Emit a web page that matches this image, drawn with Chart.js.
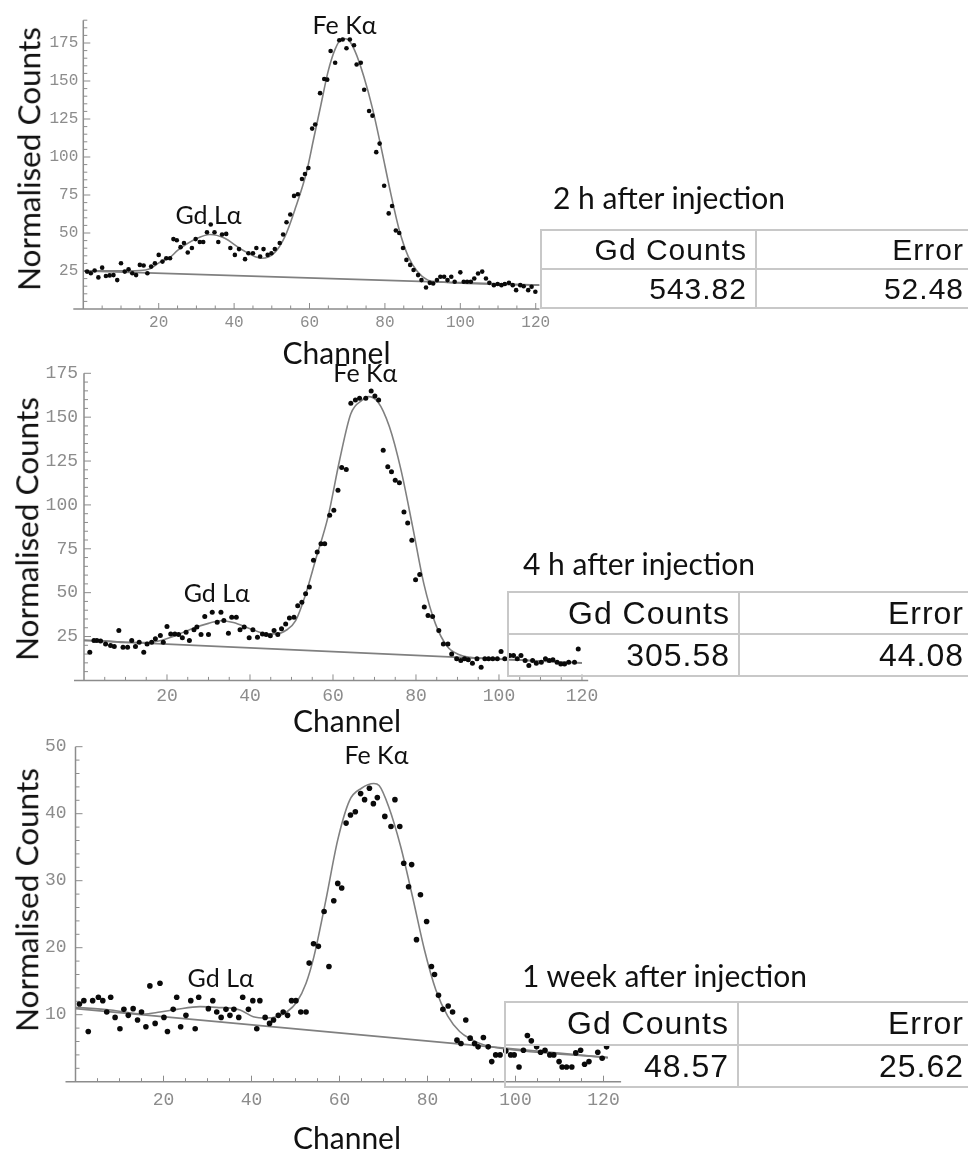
<!DOCTYPE html>
<html>
<head>
<meta charset="utf-8">
<title>Gd / Fe XRF spectra</title>
<script src="https://cdn.jsdelivr.net/npm/chart.js@4.4.1/dist/chart.umd.min.js"></script>
<style>
  html, body { margin: 0; padding: 0; background: #fff; }
  #page { position: relative; width: 968px; height: 1152px; overflow: hidden; background: #fff; }
  #page canvas { position: absolute; left: 0; }
  .ytitle, .xtitle, .caption { position: absolute; font-family: Lato, "Open Sans", sans-serif; color: #111; white-space: pre; line-height: 1; }
  .ytitle { font-size: 31.5px; transform: translate(-50%, -50%) rotate(-90deg); }
  .xtitle { font-size: 30px; transform: translate(-50%, -50%); }
  .caption { font-size: 30px; transform: translateY(-50%); }
  table.res { position: absolute; border-collapse: collapse; table-layout: fixed; font-family: "Liberation Sans", Arial, sans-serif; color: #111; letter-spacing: 1px; }
  table.res td { border: 2px solid #c8c8c8; text-align: right; white-space: nowrap; overflow: hidden; line-height: 1; vertical-align: middle; padding: 0 8px 0 0; }
  table.res td + td { padding-right: 10px; }
</style>
</head>
<body>
<div id="page"></div>
<script>
// ---- 2 h after injection ----
const p1Channel = [1,2,3,4,5,6,7,8,9,10,11,12,13,14,15,16,17,18,19,20,21,22,23,
  23.9,24.8,25.8,26.7,27.7,28.8,29.8,30.9,31.8,32.8,33.8,34.8,35.8,36.8,37.9,39.0,40.2,41.3,42.9,43.8,
  45.0,45.9,46.9,47.8,48.9,49.9,50.8,52.1,53.0,53.9,54.9,55.9,56.9,58.0,58.8,59.7,60.7,61.5,62.8,63.9,
  64.7,65.6,66.8,67.9,68.8,69.8,70.7,71.8,72.5,73.6,74.5,75.8,76.7,77.7,78.6,79.8,81.0,81.9,82.9,83.8,
  84.8,85.7,86.7,87.6,88.8,89.7,90.9,91.9,92.8,93.8,94.7,95.7,96.6,97.6,98.5,100.0,100.9,101.8,102.8,103.7,
  104.7,105.8,106.8,107.7,108.9,109.9,110.9,111.8,112.9,113.9,114.8,115.9,116.8,118.0,118.9,119.9];
const p1Counts = [24.6,23.5,25.3,20.8,27.2,21.7,22.1,22.3,19.0,30.1,24.6,26.1,23.5,22.3,29.0,28.6,23.5,27.9,30.1,35.6,31.2,33.4,33.4,
  46.0,45.2,40.7,43.4,37.2,40.1,46.0,44.1,44.1,50.5,55.6,50.5,44.1,49.0,49.4,40.1,35.6,39.4,32.8,36.7,
  36.7,40.1,34.5,39.4,35.6,36.7,39.4,43.4,49.0,57.1,62.2,74.4,75.5,85.5,88.8,92.8,118.7,121.4,142.0,151.3,
  150.9,169.7,162.0,176.8,177.3,171.5,177.3,173.5,160.9,162.0,144.2,130.3,127.2,103.2,108.8,81.1,62.9,67.8,51.6,50.0,
  40.1,32.3,29.0,25.7,22.3,19.0,14.1,17.2,16.8,19.0,21.2,21.2,19.0,21.2,17.9,24.1,17.9,17.9,17.9,20.1,
  23.4,24.6,20.1,17.2,15.7,16.4,15.7,16.4,17.2,15.7,12.4,15.7,15.0,12.4,14.6,11.3];
const p1FitChannel = [0,8,15,17.7,20.3,23,25,29.8,33.6,37.4,42.1,47.3,50.6,53.5,56.3,59.2,61.1,63,64.9,66.8,68.7,70.1,72,74.4,76.7,79.1,81.5,83.8,86.2,88.6,91.4,94.3,121];
const p1FitCounts = [25.2,25.1,25.3,26.5,30.8,34,38.5,46,49,46.7,39,33.4,36.7,47.8,66.7,90,112,134,156,171,178,177.5,170,153,132,105,76.6,52,34.5,24.6,19,17.9,15.7];
const p1BaseChannel = [0, 121];
const p1BaseCounts = [25.1, 15.7];

// ---- 4 h after injection ----
const p2Channel = [1.4,2.4,3.1,4.0,5.2,6.4,7.3,8.4,9.4,10.5,11.5,12.4,13.3,14.4,15.2,16.3,17.2,18.4,19.1,20.0,
  20.9,21.9,22.8,23.7,24.6,25.4,26.5,27.2,28.2,29.1,30.0,30.9,32.1,33.0,33.7,34.8,35.6,36.7,37.6,38.6,
  39.8,40.7,41.8,43.0,43.9,44.9,45.8,46.7,47.6,48.6,49.5,50.6,51.5,52.5,53.4,54.3,55.3,56.2,57.1,58.0,
  59.2,60.2,61.2,62.1,63.2,64.3,65.4,66.4,67.9,69.2,70.1,71.0,72.1,73.2,74.1,75.0,76.0,77.1,78.0,79.0,
  79.9,80.9,82.0,82.9,84.0,85.5,86.6,87.7,88.6,89.8,90.8,91.7,92.6,93.6,94.7,95.7,96.6,97.5,98.5,99.6,
  100.5,101.4,102.6,103.5,104.4,105.3,106.3,107.2,108.1,109.0,110.2,111.2,112.1,113.0,114.0,114.9,115.8,116.8,118.2,119.1];
const p2Counts = [16.1,22.7,22.7,22.4,20.8,19.9,19.3,28.4,18.9,18.9,22.7,19.3,21.8,16.1,20.8,21.8,23.7,25.6,21.8,30.7,
  26.5,26.5,26.2,24.3,27.5,22.7,28.8,30.4,26.2,36.4,26.2,38.9,33.2,38.9,34.1,26.9,36.0,36.0,28.8,30.4,
  24.3,28.8,24.6,26.5,26.2,25.4,28.4,26.2,29.4,32.2,35.6,36.0,42.5,44.6,49.4,53.2,68.4,73.2,77.9,77.9,
  94.1,97.0,108.4,121.3,120.2,157.9,159.8,160.8,160.8,164.9,162.1,159.8,131.2,121.7,118.9,114.1,112.6,96.0,89.7,79.8,
  57.4,60.4,41.8,37.0,36.4,28.4,20.8,20.8,15.1,12.3,11.3,12.3,11.7,9.8,12.3,7.5,12.3,12.3,12.3,12.3,
  16.4,12.3,14.2,14.2,12.3,14.2,11.3,8.5,11.3,9.8,10.4,12.3,11.3,11.7,10.4,9.4,9.4,10.4,10.4,17.9];
const p2FitChannel = [0,5,10,15,18,22,26,30,33,36,40,43,46,49,51,53.2,56,58.8,61.6,64.3,67.1,68.5,70.8,73.6,76.4,79.2,81.9,84.7,87.5,90.3,93.1,96,120];
const p2FitCounts = [22.8,22.5,21.6,21.6,22.5,25.5,29.5,32.5,34,33,29.5,27,26.5,29,34,47.5,70.3,93.2,125.6,152,159.8,161.7,158.8,144.5,119.8,87.5,55,32.2,19.5,14.8,13.1,12.6,10.0];
const p2BaseChannel = [0, 120];
const p2BaseCounts = [22.8, 10.0];

// ---- 1 week after injection ----
const p3Channel = [0.9,1.9,2.9,3.9,5.2,6.2,7.1,8.0,9.0,10.1,11.0,12.0,13.1,14.1,15.0,16.0,16.9,18.1,19.2,20.1,
  20.9,22.2,23.0,23.9,25.1,26.2,27.2,28.0,30.2,31.2,32.1,33.1,34.2,35.1,36.0,37.1,38.0,39.3,40.3,41.2,
  41.9,43.1,44.1,45.0,46.1,47.2,48.2,49.1,50.1,51.2,52.4,53.1,54.1,55.2,56.5,57.6,58.7,59.6,60.5,61.5,
  62.5,63.6,64.8,65.7,66.8,67.7,68.6,70.3,71.7,72.6,73.7,74.6,75.7,76.4,77.5,78.4,79.8,
  80.9,81.6,82.5,83.5,84.7,85.7,86.7,87.6,88.7,89.7,90.7,91.5,92.7,93.8,94.6,95.5,96.5,97.8,98.9,99.7,
  100.8,101.8,102.7,103.6,104.8,105.7,106.7,107.8,108.7,109.9,110.6,111.6,112.8,113.7,114.8,115.7,116.7,118.7,119.7,120.7];
const p3Counts = [11.6,12.1,7.5,12.1,12.6,12.1,10.4,12.6,9.6,7.9,10.8,9.9,10.9,9.2,10.4,8.2,14.3,8.7,14.7,9.6,
  7.5,10.8,12.6,8.2,9.9,12.1,7.9,12.6,10.9,12.1,10.4,9.6,10.8,9.9,10.8,9.6,12.6,10.8,12.1,7.9,
  12.1,9.6,8.7,9.2,9.9,10.4,9.9,12.1,12.1,10.4,10.4,17.7,20.6,20.2,25.4,17.2,27.0,29.6,28.9,38.6,
  39.8,40.3,43.0,42.1,43.8,41.5,42.4,39.6,38.1,42.1,38.1,32.6,29.1,32.4,21.2,27.9,23.9,
  17.2,16.0,12.9,10.8,11.3,10.4,6.2,5.7,9.2,6.5,5.7,5.2,6.6,5.2,3.0,4.0,4.0,4.6,4.0,4.0,
  2.2,4.7,6.9,6.1,5.2,4.4,4.7,4.0,4.0,3.0,2.2,2.2,2.2,4.3,4.7,2.6,3.0,4.4,3.5,5.2];
const p3FitChannel = [0,8,15.4,19.2,23,28.3,32,37.4,40.4,43.4,45.7,48,50.3,52.4,54.2,56.9,59.6,62.3,65,67.8,69,71.2,73.9,76.6,79.3,81.9,84.6,87.3,90,92.7,96.5,121];
const p3FitCounts = [11.1,10.7,10.1,10.4,10.8,11.2,11.1,10.7,9.7,9.5,9.7,10.4,11.9,14.7,18.7,27.1,36.1,42.0,43.8,44.5,44.2,41.0,35.1,27.6,19.7,13.7,9.8,7.5,6.3,5.5,5.0,3.6];
const p3BaseChannel = [0, 121];
const p3BaseCounts = [10.9, 3.6];

// ---- texts ----
const captions = ['2 h after injection', '4 h after injection', '1 week after injection'];
const tableHeader = ['Gd Counts', 'Error'];
const gdCounts = ['543.82', '305.58', '48.57'];
const gdErrors = ['52.48', '44.08', '25.62'];
const peakNames = ['Gd L\u03b1', 'Fe K\u03b1'];
const yTitle = 'Normalised Counts';
const xTitle = 'Channel';

const panels = [
  { ch: p1Channel, counts: p1Counts, fitCh: p1FitChannel, fit: p1FitCounts, baseCh: p1BaseChannel, base: p1BaseCounts,
    top: 0, height: 345, area: { left: 83.3, right: 539.5, top: 20.2, bottom: 309 },
    xMax: 121, yMax: 190, yStep: 25, yMinor: 5, tickFont: 16, yPad: 5, xPad: 4.4, dot: 2.3,
    peaks: [[33.2, 61.2], [69.3, 185.9]],
    yTitleAt: [28.5, 158.5], xTitleAt: [336.5, 352], captionAt: [553, 197],
    table: { left: 540, top: 229, col: 215, row: 39, font: 30 } },
  { ch: p2Channel, counts: p2Counts, fitCh: p2FitChannel, fit: p2FitCounts, baseCh: p2BaseChannel, base: p2BaseCounts,
    top: 345, height: 375, area: { left: 84, right: 588.2, top: 28.3, bottom: 335.4 },
    xMax: 121.5, yMax: 175, yStep: 25, yMinor: 5, tickFont: 18, yPad: 6, xPad: 5.3, dot: 2.5,
    peaks: [[32.0, 49.2], [67.8, 174.6]],
    yTitleAt: [26.5, 528.5], xTitleAt: [347, 720], captionAt: [523, 563],
    table: { left: 507, top: 591, col: 231, row: 42, font: 32 } },
  { ch: p3Channel, counts: p3Counts, fitCh: p3FitChannel, fit: p3FitCounts, baseCh: p3BaseChannel, base: p3BaseCounts,
    top: 725, height: 427, area: { left: 75.5, right: 621.1, top: 21.7, bottom: 356.7 },
    xMax: 124, yMax: 50, yStep: 10, yMinor: 2, tickFont: 18, yPad: 9, xPad: 7.5, dot: 2.8,
    peaks: [[33.0, 15.4], [68.4, 48.6]],
    yTitleAt: [27, 900], xTitleAt: [347, 1136.5], captionAt: [522, 975],
    table: { left: 504, top: 1001, col: 233, row: 42.5, font: 32 } }
];

// Mathematica-like axes: lines through the origin, inward ticks, peak names
const mmaAxes = {
  id: 'mmaAxes',
  beforeDatasetsDraw(chart, args, o) {
    const { ctx, scales: { x, y } } = chart;
    const ox = x.getPixelForValue(0);
    const oy = y.getPixelForValue(0);
    ctx.save();
    ctx.strokeStyle = '#8c8c8c';
    ctx.lineWidth = 1.5;
    ctx.beginPath();
    ctx.moveTo(ox - 10, oy); ctx.lineTo(x.right, oy);
    ctx.moveTo(ox, y.top); ctx.lineTo(ox, oy);
    ctx.stroke();
    ctx.lineWidth = 1;
    ctx.beginPath();
    for (let v = o.xMinor; v <= x.max; v += o.xMinor) {
      const px = x.getPixelForValue(v);
      ctx.moveTo(px, oy); ctx.lineTo(px, oy - (v % o.xMajor === 0 ? 6 : 3.5));
    }
    for (let v = o.yMinor; v <= y.max; v += o.yMinor) {
      const py = y.getPixelForValue(v);
      ctx.moveTo(ox, py); ctx.lineTo(ox + (v % o.yMajor === 0 ? 7 : 4), py);
    }
    ctx.stroke();
    ctx.restore();
  },
  afterDraw(chart, args, o) {
    const { ctx, scales: { x, y } } = chart;
    ctx.save();
    ctx.font = '25px Lato, "Open Sans", sans-serif';
    ctx.fillStyle = '#111';
    ctx.textAlign = 'center';
    ctx.textBaseline = 'middle';
    o.spots.forEach((s, i) => ctx.fillText(peakNames[i], x.getPixelForValue(s[0]), y.getPixelForValue(s[1])));
    ctx.restore();
  }
};

const page = document.getElementById('page');

function pairs(xs, ys) {
  return xs.map((v, i) => ({ x: v, y: ys[i] }));
}

function addText(cls, text, at) {
  const d = document.createElement('div');
  d.className = cls;
  d.textContent = text;
  d.style.left = at[0] + 'px';
  d.style.top = at[1] + 'px';
  page.appendChild(d);
}

function addTable(i, t) {
  const tb = document.createElement('table');
  tb.className = 'res';
  tb.style.left = t.left + 'px';
  tb.style.top = t.top + 'px';
  tb.style.width = (976 - t.left) + 'px';
  tb.style.fontSize = t.font + 'px';
  tb.innerHTML = '<colgroup><col style="width:' + t.col + 'px"><col></colgroup>' +
    '<tr><td>' + tableHeader[0] + '</td><td>' + tableHeader[1] + '</td></tr>' +
    '<tr><td>' + gdCounts[i] + '</td><td>' + gdErrors[i] + '</td></tr>';
  tb.querySelectorAll('td').forEach(td => { td.style.height = (t.row - 2) + 'px'; });
  page.appendChild(tb);
}

panels.forEach((p, i) => {
  const canvas = document.createElement('canvas');
  canvas.width = 968;
  canvas.height = p.height;
  canvas.style.top = p.top + 'px';
  page.appendChild(canvas);

  const tickFont = { family: '"Liberation Mono", "Courier New", monospace', size: p.tickFont };
  const a = p.area;

  new Chart(canvas, {
    type: 'scatter',
    data: {
      datasets: [
        { data: pairs(p.ch, p.counts), pointRadius: p.dot, pointBackgroundColor: '#0a0a0a', pointBorderWidth: 0, showLine: false },
        { data: pairs(p.fitCh, p.fit), showLine: true, borderColor: '#808080', borderWidth: 1.6, pointRadius: 0, cubicInterpolationMode: 'monotone' },
        { data: pairs(p.baseCh, p.base), showLine: true, borderColor: '#808080', borderWidth: 1.6, pointRadius: 0 }
      ]
    },
    options: {
      responsive: false,
      animation: false,
      events: [],
      layout: { padding: { left: 0, right: 968 - a.right, top: a.top, bottom: 0 } },
      plugins: {
        legend: { display: false },
        tooltip: { enabled: false },
        mmaAxes: { xMinor: 5, xMajor: 20, yMinor: p.yMinor, yMajor: p.yStep, spots: p.peaks }
      },
      scales: {
        x: {
          type: 'linear', min: 0, max: p.xMax,
          grid: { display: false, drawTicks: false },
          border: { display: false },
          ticks: { stepSize: 20, includeBounds: false, autoSkip: false, maxRotation: 0, padding: p.xPad,
                   color: '#8c8c8c', font: tickFont, callback: v => (v === 0 ? '' : String(v)) },
          afterFit: s => { s.height = p.height - a.bottom; }
        },
        y: {
          type: 'linear', min: 0, max: p.yMax,
          grid: { display: false, drawTicks: false },
          border: { display: false },
          ticks: { stepSize: p.yStep, includeBounds: false, autoSkip: false, padding: p.yPad,
                   color: '#8c8c8c', font: tickFont, callback: v => (v === 0 ? '' : String(v)) },
          afterFit: s => { s.width = a.left; }
        }
      }
    },
    plugins: [mmaAxes]
  });

  addText('ytitle', yTitle, p.yTitleAt);
  addText('xtitle', xTitle, p.xTitleAt);
  addText('caption', captions[i], p.captionAt);
  addTable(i, p.table);
});
</script>
</body>
</html>
